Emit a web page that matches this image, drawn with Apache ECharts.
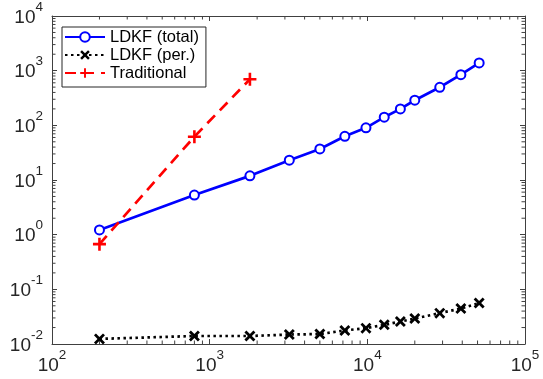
<!DOCTYPE html>
<html>
<head>
<meta charset="utf-8">
<script src="https://cdn.jsdelivr.net/npm/echarts@6/dist/echarts.min.js"></script>
<style>html,body{margin:0;padding:0;background:#fff;}#c{width:543px;height:379px;}</style>
</head>
<body>
<div id="c"></div>
<script>
// ---- data ----
const xValues = [200, 800, 1800, 3200, 5000, 7200, 9800, 12800, 16200, 20000, 28800, 39200, 51200];
const ldkfTotal = [1.22, 5.3, 11.9, 23, 37, 63, 90, 141, 200, 288, 497, 845, 1384];
const ldkfPer = [0.0124, 0.0140, 0.0140, 0.0149, 0.0152, 0.0177, 0.0195, 0.0224, 0.0258, 0.0292, 0.0367, 0.0446, 0.056];
const tradX = [200, 800, 1800];
const traditional = [0.67, 62, 697];
const seriesNames = ['LDKF (total)', 'LDKF (per.)', 'Traditional'];
const xTickExps = [2, 3, 4, 5];
const yTickExps = [-2, -1, 0, 1, 2, 3, 4];

const AX = '#404040';
const FONT = 'Liberation Sans, Arial, Helvetica, sans-serif';

function pairs(xs, ys) { return xs.map((x, i) => [x, ys[i]]); }

const xMin = Math.pow(10, xTickExps[0]), xMax = Math.pow(10, xTickExps[xTickExps.length - 1]);
const yMin = Math.pow(10, yTickExps[0]), yMax = Math.pow(10, yTickExps[yTickExps.length - 1]);

// minor tick positions (axis decoration, 2..9 x 10^k)
const xMinorVals = [], yMinorVals = [];
for (let k = xTickExps[0]; k < xTickExps[xTickExps.length - 1]; k++)
  for (let m = 2; m <= 9; m++) xMinorVals.push(m * Math.pow(10, k));
for (let k = yTickExps[0]; k < yTickExps[yTickExps.length - 1]; k++)
  for (let m = 2; m <= 9; m++) yMinorVals.push(m * Math.pow(10, k));

const labelRich = {
  b: { fontSize: 19, lineHeight: 27, fontFamily: FONT, color: '#262626', verticalAlign: 'bottom' },
  s: { fontSize: 13.5, lineHeight: 12, fontFamily: FONT, color: '#262626', verticalAlign: 'top' }
};
function expLabel(v) {
  const e = Math.round(Math.log10(v));
  return '{b|10}{s|' + e + '}';
}

const axisCommon = {
  type: 'log', logBase: 10,
  axisLine: { show: true, lineStyle: { color: AX, width: 1 } },
  axisTick: { show: true, inside: true, length: 5, lineStyle: { color: AX, width: 1 } },
  splitLine: { show: false },
  minorTick: { show: false }
};

const xPath = 'path://M0,1.8 L1.8,0 L5,3.2 L8.2,0 L10,1.8 L6.8,5 L10,8.2 L8.2,10 L5,6.8 L1.8,10 L0,8.2 L3.2,5 Z';
const plusPath = 'path://M4,0 H6 V4 H10 V6 H6 V10 H4 V6 H0 V4 H4 Z';

function tickSeries(data, size, offset) {
  return {
    type: 'scatter', silent: true, clip: false,
    xAxisIndex: 0, yAxisIndex: 0,
    data: data, symbol: 'rect', symbolSize: size, symbolOffset: offset,
    itemStyle: { color: AX, opacity: 1 },
    emphasis: { disabled: true },
    z: 1
  };
}

const chart = echarts.init(document.getElementById('c'), null, { renderer: 'canvas' });
chart.setOption({
  animation: false,
  backgroundColor: '#fff',
  grid: { left: 52, right: 18, top: 16, bottom: 35, containLabel: false },
  xAxis: [
    Object.assign({}, axisCommon, {
      position: 'bottom', min: xMin, max: xMax,
      axisLabel: { show: true, margin: 4, formatter: expLabel, rich: labelRich }
    }),
    Object.assign({}, axisCommon, {
      position: 'top', min: xMin, max: xMax, axisLabel: { show: false }
    })
  ],
  yAxis: [
    Object.assign({}, axisCommon, {
      position: 'left', min: yMin, max: yMax,
      axisLabel: { show: true, margin: 9, padding: [0, 0, 5, 0], formatter: expLabel, rich: labelRich }
    }),
    Object.assign({}, axisCommon, {
      position: 'right', min: yMin, max: yMax, axisLabel: { show: false }
    })
  ],
  legend: {
    data: seriesNames,
    orient: 'vertical',
    left: 62, top: 27,
    padding: [1, 7, 5, 2],
    itemGap: 0,
    itemWidth: 40, itemHeight: 12,
    backgroundColor: '#fff',
    borderColor: '#262626', borderWidth: 1,
    textStyle: { fontFamily: FONT, fontSize: 16.5, color: '#000', lineHeight: 18 }
  },
  series: [
    {
      name: seriesNames[0], type: 'line', data: pairs(xValues, ldkfTotal),
      xAxisIndex: 0, yAxisIndex: 0,
      symbol: 'emptyCircle', symbolSize: 9,
      lineStyle: { color: '#0000ff', width: 2.7 },
      itemStyle: { color: '#0000ff', borderColor: '#0000ff', borderWidth: 3 },
      z: 3
    },
    {
      name: seriesNames[1], type: 'line', data: pairs(xValues, ldkfPer),
      xAxisIndex: 0, yAxisIndex: 0,
      symbol: xPath, symbolSize: 11,
      lineStyle: { color: '#000', width: 2.7, type: [2.5, 3.5] },
      itemStyle: { color: '#000' },
      z: 4
    },
    {
      name: seriesNames[2], type: 'line', data: pairs(tradX, traditional),
      xAxisIndex: 0, yAxisIndex: 0,
      symbol: plusPath, symbolSize: 13,
      lineStyle: { color: '#ff0000', width: 2.7, type: [11, 7] },
      itemStyle: { color: '#ff0000' },
      z: 5
    },
    tickSeries(xMinorVals.map(v => [v, yMin]), [1, 3.5], [0, -1.75]),
    tickSeries(xMinorVals.map(v => [v, yMax]), [1, 3.5], [0, 1.75]),
    tickSeries(yMinorVals.map(v => [xMin, v]), [3.5, 1], [1.75, 0]),
    tickSeries(yMinorVals.map(v => [xMax, v]), [3.5, 1], [-1.75, 0])
  ]
});
</script>
</body>
</html>
